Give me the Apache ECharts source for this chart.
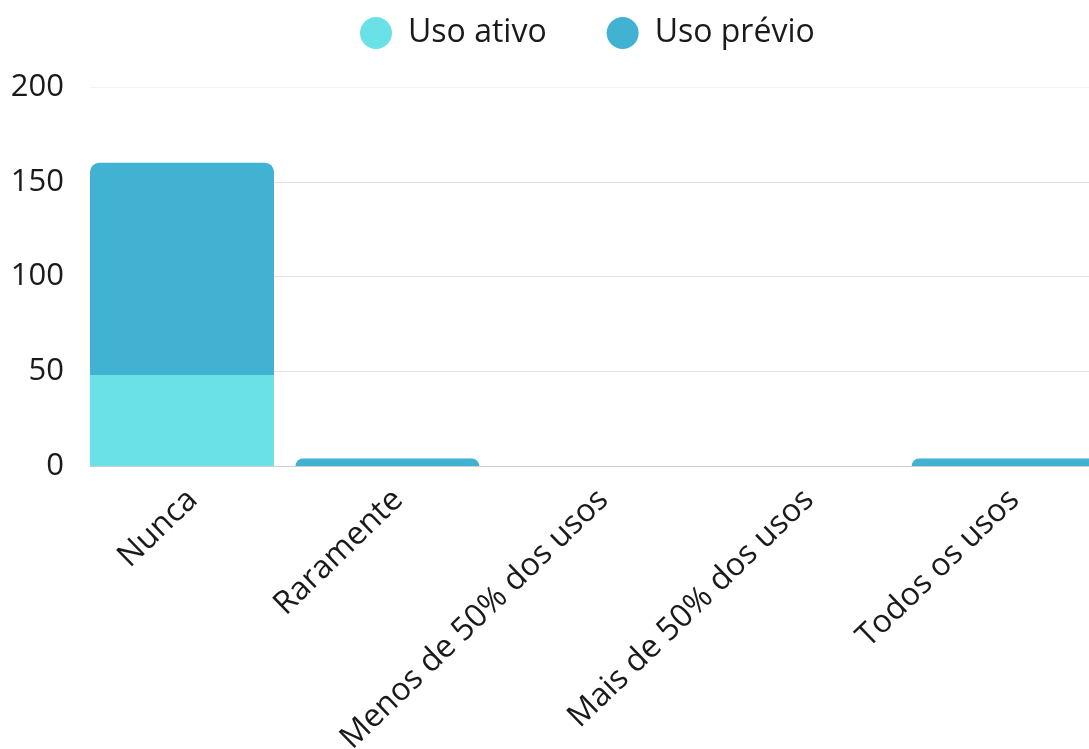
<!DOCTYPE html>
<html>
<head>
<meta charset="utf-8">
<script src="https://cdn.jsdelivr.net/npm/echarts@6/dist/echarts.min.js"></script>
<style>
  html, body { margin: 0; padding: 0; background: #fff; }
  #chart { width: 1089px; height: 749px; }
</style>
</head>
<body>
<div id="chart"></div>
<script>
// Frequência de uso, empilhada por tipo de uso
const categories = ['Nunca', 'Raramente', 'Menos de 50% dos usos', 'Mais de 50% dos usos', 'Todos os usos'];
const usoAtivo = [48, 0, 0, 0, 0];
const usoPrevio = [112, 4, 0, 0, 4];
const yTicks = { min: 0, max: 200, interval: 50 };

const FONT = "'Open Sans', sans-serif";
const TEXT = '#1a1a1a';

const chart = echarts.init(document.getElementById('chart'), null, { renderer: 'canvas' });

chart.setOption({
  animation: false,
  textStyle: { fontFamily: FONT },
  legend: {
    top: 12,
    left: 355,
    icon: 'circle',
    itemWidth: 32,
    itemHeight: 32,
    itemGap: 60,
    data: ['Uso ativo', 'Uso prévio'],
    textStyle: { fontFamily: FONT, fontSize: 32, color: TEXT, padding: [0, 0, 0, 11] }
  },
  // the plot band runs a little past the right edge of the canvas
  grid: {
    left: 90, width: 1027, top: 87, bottom: 283,
    containLabel: false,
    outerBoundsMode: 'none'
  },
  xAxis: {
    type: 'category',
    data: categories,
    axisTick: { show: false },
    axisLine: { lineStyle: { color: '#cfcfcf', width: 1 } },
    axisLabel: {
      rotate: 44,
      interval: 0,
      margin: 29,
      fontFamily: FONT,
      fontSize: 32,
      color: TEXT
    }
  },
  yAxis: {
    type: 'value',
    min: yTicks.min,
    max: yTicks.max,
    interval: yTicks.interval,
    axisLine: { show: false },
    axisTick: { show: false },
    splitLine: { lineStyle: { color: ['#e3e3e3', '#e3e3e3', '#e3e3e3', '#e3e3e3', '#f4f4f4'] } },
    axisLabel: { fontFamily: FONT, fontSize: 31, color: TEXT, margin: 26 }
  },
  series: [
    {
      name: 'Uso ativo',
      type: 'bar',
      stack: 'uso',
      barWidth: 184,
      barGap: '11.1%',
      itemStyle: { color: '#6AE1E6' },
      data: usoAtivo
    },
    {
      name: 'Uso prévio',
      type: 'bar',
      stack: 'uso',
      barWidth: 184,
      barGap: '11.1%',
      itemStyle: { color: '#41B2D1', borderRadius: [9, 9, 0, 0] },
      data: usoPrevio
    },
    {
      // empty spacer column that keeps the stacked bars left of each band centre
      name: 'spacer',
      type: 'bar',
      barWidth: 1,
      barGap: '11.1%',
      silent: true,
      data: categories.map(() => '-')
    }
  ]
});
</script>
</body>
</html>
